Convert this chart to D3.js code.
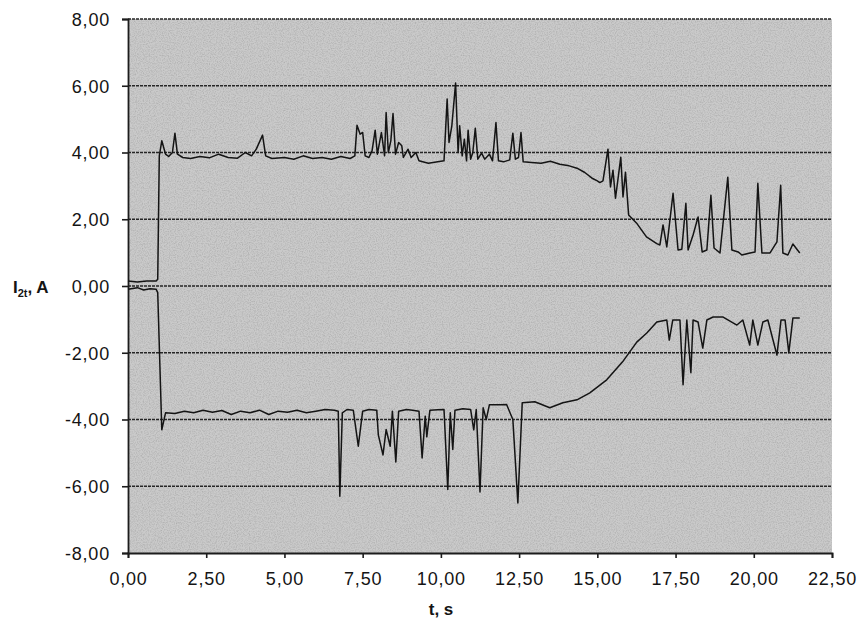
<!DOCTYPE html>
<html>
<head>
<meta charset="utf-8">
<script src="https://cdn.jsdelivr.net/npm/d3@7"></script>
<style>
  html, body { margin: 0; padding: 0; background: #fff; }
  svg text { font-family: "Liberation Sans", Arial, Helvetica, sans-serif; fill: #141414; }
</style>
</head>
<body>
<svg id="chart" width="861" height="629"></svg>
<script>
// Phase current I2t (A) versus time t (s): positive and negative envelopes
const upperT = [0.00, 0.30, 0.60, 0.90, 0.95, 1.00, 1.08, 1.20, 1.30, 1.42, 1.50, 1.58, 1.75, 2.00, 2.30, 2.60, 2.90, 3.20, 3.50, 3.75, 3.95, 4.10, 4.30, 4.40, 4.60, 5.00, 5.30, 5.60, 5.90, 6.20, 6.50, 6.80, 7.10, 7.25, 7.32, 7.42, 7.50, 7.58, 7.70, 7.80, 7.90, 7.97, 8.10, 8.20, 8.25, 8.32, 8.40, 8.47, 8.55, 8.65, 8.75, 8.80, 8.95, 9.05, 9.20, 9.30, 9.60, 9.90, 10.10, 10.20, 10.26, 10.35, 10.47, 10.55, 10.60, 10.68, 10.75, 10.82, 10.87, 10.95, 11.02, 11.10, 11.18, 11.30, 11.40, 11.55, 11.65, 11.76, 11.84, 12.00, 12.20, 12.30, 12.38, 12.48, 12.56, 12.63, 12.90, 13.20, 13.50, 13.80, 14.10, 14.35, 14.60, 14.85, 15.00, 15.08, 15.18, 15.34, 15.42, 15.50, 15.58, 15.66, 15.75, 15.82, 15.90, 16.00, 16.25, 16.57, 16.90, 17.00, 17.10, 17.22, 17.42, 17.58, 17.70, 17.83, 17.90, 18.06, 18.22, 18.35, 18.50, 18.63, 18.73, 18.92, 19.17, 19.30, 19.50, 19.62, 19.88, 20.04, 20.13, 20.26, 20.52, 20.74, 20.86, 20.93, 21.09, 21.25, 21.47];
const upperI = [0.15, 0.12, 0.15, 0.15, 0.20, 3.90, 4.35, 3.95, 3.88, 4.00, 4.58, 3.95, 3.85, 3.82, 3.88, 3.84, 3.95, 3.85, 3.83, 4.00, 3.90, 4.10, 4.52, 3.90, 3.82, 3.85, 3.80, 3.90, 3.82, 3.85, 3.80, 3.88, 3.82, 3.90, 4.82, 4.55, 4.60, 3.90, 3.85, 4.05, 4.67, 3.95, 4.60, 3.90, 5.20, 4.00, 4.35, 5.17, 3.95, 4.30, 4.20, 3.85, 4.10, 3.85, 4.00, 3.75, 3.68, 3.72, 3.75, 5.60, 4.30, 4.80, 6.08, 4.00, 4.80, 3.90, 4.40, 3.75, 4.67, 3.80, 4.00, 4.73, 3.80, 3.98, 3.80, 3.95, 3.75, 4.90, 3.75, 3.72, 3.78, 4.58, 3.80, 3.85, 4.60, 3.72, 3.70, 3.68, 3.74, 3.65, 3.60, 3.53, 3.40, 3.22, 3.15, 3.10, 3.15, 4.10, 2.97, 3.47, 2.63, 3.20, 3.86, 2.67, 3.41, 2.13, 1.89, 1.47, 1.27, 1.23, 1.83, 1.17, 2.78, 1.08, 1.10, 2.48, 1.08, 1.53, 2.07, 1.02, 1.08, 2.72, 1.14, 0.99, 3.26, 1.08, 1.02, 0.93, 0.99, 1.02, 3.08, 0.99, 0.99, 1.32, 3.02, 0.99, 0.93, 1.26, 0.99];

const lowerT = [0.00, 0.30, 0.50, 0.70, 0.90, 0.95, 1.08, 1.20, 1.50, 1.80, 2.10, 2.40, 2.70, 3.00, 3.30, 3.60, 3.90, 4.20, 4.50, 4.80, 5.10, 5.40, 5.70, 6.00, 6.30, 6.60, 6.72, 6.77, 6.85, 7.00, 7.20, 7.36, 7.50, 7.70, 7.95, 8.00, 8.15, 8.25, 8.38, 8.45, 8.56, 8.65, 8.90, 9.10, 9.30, 9.40, 9.50, 9.55, 9.65, 9.90, 10.10, 10.22, 10.30, 10.38, 10.45, 10.70, 10.95, 11.05, 11.13, 11.25, 11.35, 11.45, 11.55, 11.90, 12.10, 12.30, 12.46, 12.60, 13.00, 13.48, 13.90, 14.35, 14.76, 15.30, 15.80, 16.26, 16.58, 16.90, 17.22, 17.30, 17.41, 17.64, 17.74, 17.86, 17.99, 18.06, 18.22, 18.37, 18.50, 18.70, 19.02, 19.46, 19.65, 19.87, 19.97, 20.13, 20.29, 20.45, 20.74, 20.87, 21.00, 21.12, 21.25, 21.47];
const lowerI = [-0.10, -0.05, -0.12, -0.08, -0.10, -0.20, -4.31, -3.80, -3.82, -3.75, -3.80, -3.72, -3.78, -3.73, -3.85, -3.75, -3.80, -3.72, -3.85, -3.75, -3.78, -3.72, -3.80, -3.75, -3.70, -3.72, -3.75, -6.30, -3.80, -3.70, -3.72, -4.80, -3.75, -3.70, -3.72, -4.46, -5.06, -4.30, -4.80, -3.75, -5.27, -3.75, -3.70, -3.72, -3.75, -5.15, -3.90, -4.52, -3.72, -3.71, -3.70, -6.10, -3.80, -4.90, -3.72, -3.68, -3.70, -4.31, -3.70, -6.17, -3.65, -4.00, -3.56, -3.56, -3.55, -4.00, -6.50, -3.50, -3.47, -3.65, -3.50, -3.41, -3.20, -2.81, -2.28, -1.68, -1.41, -1.08, -1.02, -1.62, -1.02, -1.02, -2.96, -1.02, -2.60, -1.02, -1.08, -1.86, -1.02, -0.93, -0.93, -1.17, -1.02, -1.77, -1.02, -1.77, -1.08, -1.02, -2.07, -1.02, -1.02, -2.00, -0.96, -0.96];

const xTicks = [0, 2.5, 5, 7.5, 10, 12.5, 15, 17.5, 20, 22.5];
const yTicks = [-8, -6, -4, -2, 0, 2, 4, 6, 8];
const xTitle = "t, s";

const svg = d3.select("#chart");
const plotLeft = 128, plotRight = 832, plotTop = 19, plotBottom = 553;

const x = d3.scaleLinear().domain([0, 22.5]).range([plotLeft, plotRight]);
const y = d3.scaleLinear().domain([-8, 8]).range([plotBottom, plotTop]);
const fmt = v => v.toFixed(2).replace(".", ",");

// grainy light-grey plot background
const defs = svg.append("defs");
const grain = defs.append("filter").attr("id", "grain")
  .attr("x", 0).attr("y", 0).attr("width", "100%").attr("height", "100%");
grain.append("feTurbulence").attr("type", "fractalNoise")
  .attr("baseFrequency", 0.85).attr("numOctaves", 2).attr("seed", 3).attr("result", "n");
grain.append("feColorMatrix").attr("in", "n").attr("type", "matrix")
  .attr("values", "0 0 0 0 0  0 0 0 0 0  0 0 0 0 0  0 0 0 -1.8 1.1").attr("result", "a");
grain.append("feComposite").attr("in", "a").attr("in2", "SourceGraphic").attr("operator", "in");

svg.append("rect").attr("x", plotLeft).attr("y", plotTop)
  .attr("width", plotRight - plotLeft).attr("height", plotBottom - plotTop)
  .attr("fill", "#cacaca");
svg.append("rect").attr("x", plotLeft).attr("y", plotTop)
  .attr("width", plotRight - plotLeft).attr("height", plotBottom - plotTop)
  .attr("fill", "#707070").attr("opacity", 0.14).attr("filter", "url(#grain)");

// horizontal gridlines
svg.append("g").selectAll("line")
  .data(yTicks.filter(v => v > -8))
  .join("line")
  .attr("x1", plotLeft).attr("x2", plotRight)
  .attr("y1", d => y(d)).attr("y2", d => y(d))
  .attr("stroke", "#262626").attr("stroke-width", 1.7)
  .attr("stroke-dasharray", "3 1");

// axes
const yAxis = d3.axisLeft(y).tickValues(yTicks).tickFormat(fmt).tickSize(6).tickPadding(12);
const gy = svg.append("g").attr("transform", `translate(${plotLeft},0)`).call(yAxis);
const xAxis = d3.axisBottom(x).tickValues(xTicks).tickFormat(fmt).tickSize(5).tickPadding(14);
const gx = svg.append("g").attr("transform", `translate(0,${plotBottom})`).call(xAxis);

[gx, gy].forEach(g => {
  g.select(".domain").attr("stroke", "#1c1c1c").attr("stroke-width", 1.8);
  g.selectAll(".tick line").attr("stroke", "#1c1c1c").attr("stroke-width", 1.6);
  g.selectAll(".tick text").attr("font-size", 18).attr("letter-spacing", 0.8)
    .attr("fill", "#141414")
    .style("font-family", '"Liberation Sans", Arial, sans-serif');
});
gy.selectAll(".tick text").attr("dy", "0.36em");

// current traces
const line = d3.line().x(d => x(d[0])).y(d => y(d[1]));
[[upperT, upperI], [lowerT, lowerI]].forEach(([ts, vs]) => {
  svg.append("path")
    .datum(ts.map((t, i) => [t, vs[i]]))
    .attr("d", line)
    .attr("fill", "none")
    .attr("stroke", "#141414")
    .attr("stroke-width", 1.5)
    .attr("stroke-linejoin", "round");
});

// axis titles
const yTitle = svg.append("text").attr("x", 13).attr("y", y(0) + 7)
  .attr("font-size", 17).attr("font-weight", "bold");
yTitle.append("tspan").text("I");
yTitle.append("tspan").attr("font-size", 11).attr("dy", 4).text("2t");
yTitle.append("tspan").attr("dy", -4).text(", A");

svg.append("text").attr("x", 441).attr("y", 615)
  .attr("text-anchor", "middle").attr("font-size", 17).attr("font-weight", "bold")
  .text(xTitle);
</script>
</body>
</html>
